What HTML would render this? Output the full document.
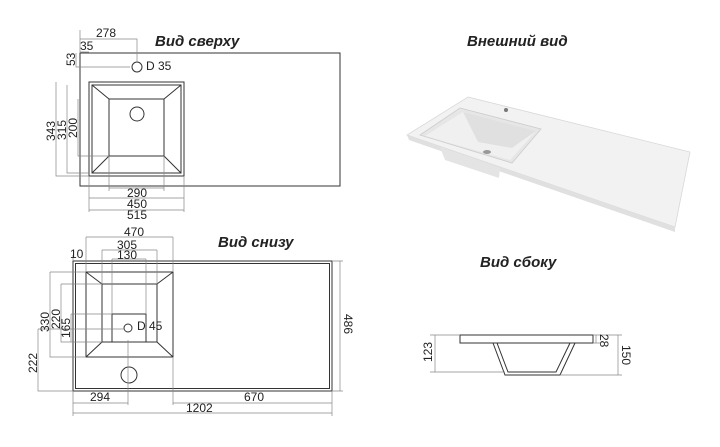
<!DOCTYPE html>
<html><head><meta charset="utf-8"><style>
body{margin:0;background:#fff}
svg{display:block}
text{font-family:"Liberation Sans",sans-serif;font-size:12px;fill:#222}
.t{font-size:15px;font-weight:bold;font-style:italic}
.d{stroke:#888;stroke-width:.7;fill:none}
.s{stroke:#333;stroke-width:1;fill:none}
</style></head><body>
<svg width="720" height="447" viewBox="0 0 720 447">
<!-- TOP VIEW -->
<text class="t" x="155" y="46">Вид сверху</text>
<rect class="s" x="80" y="53" width="260" height="133"/>
<rect class="s" x="89" y="82" width="95" height="94"/>
<rect class="s" x="92" y="85" width="89" height="88"/>
<rect class="s" x="109" y="99" width="55" height="57"/>
<path class="s" d="M92 85L109 99M181 85L164 99M92 173L109 156M181 173L164 156"/>
<circle class="s" cx="137" cy="114" r="7"/>
<circle class="s" cx="137" cy="67" r="5"/>
<text x="146" y="70">D 35</text>
<path class="d" d="M80 39H137V62M80 52H89M80 30V53M76 53V67H130M56 82V176H89M67 85V173H89M78 99V156H109M109 156V191M164 156V191M109 188H164M89 176V212M184 176V212M89 198H184M89 210H184"/>
<text x="96" y="37">278</text>
<text x="80" y="50">35</text>
<text transform="translate(75,66) rotate(-90)">53</text>
<text transform="translate(55,141) rotate(-90)">343</text>
<text transform="translate(66,140) rotate(-90)">315</text>
<text transform="translate(77,138) rotate(-90)">200</text>
<text x="127" y="197">290</text>
<text x="127" y="208">450</text>
<text x="127" y="219">515</text>

<!-- BOTTOM VIEW -->
<text class="t" x="218" y="247">Вид снизу</text>
<rect class="s" x="73" y="261" width="259" height="130"/>
<rect class="s" x="75.5" y="263.5" width="254" height="125"/>
<rect class="s" x="86" y="272" width="87" height="85"/>
<rect class="s" x="102" y="284" width="55" height="58"/>
<rect class="s" x="112" y="314" width="34" height="28"/>
<path class="s" d="M86 272L102 284M173 272L157 284M86 357L102 342M173 357L157 342"/>
<circle class="s" cx="128" cy="328" r="4"/>
<circle class="s" cx="129" cy="375" r="8"/>
<text x="137" y="330">D 45</text>
<path class="d" d="M86 237H173M86 237V272M173 237V272M102 250H157M102 250V284M157 250V284M112 259H146M112 259V314M146 259V314M73 255V261M50 272H86M50 272V357H86M61 284H102M61 284V342H102M71 314H112M71 314V342M38 329H125M38 329V391H73M332 261H343M332 391H343M340 261V391M73 391V416M332 391V416M128 340V405M173 357V405M73 403H128M173 403H332M73 413H332"/>
<text x="124" y="236">470</text>
<text x="117" y="249">305</text>
<text x="117" y="259">130</text>
<text x="70" y="258">10</text>
<text transform="translate(49,332) rotate(-90)">330</text>
<text transform="translate(60,329) rotate(-90)">220</text>
<text transform="translate(70,338) rotate(-90)">165</text>
<text transform="translate(37,373) rotate(-90)">222</text>
<text transform="translate(344,314) rotate(90)">486</text>
<text x="90" y="401">294</text>
<text x="244" y="401">670</text>
<text x="186" y="412">1202</text>

<!-- PHOTO -->
<text class="t" x="467" y="46">Внешний вид</text>
<polygon points="468,97 690,152 675,227 407,135" fill="#f2f2f2" stroke="#d8d8d8" stroke-width=".8"/>
<polygon points="407,135 675,227 675,232 409,140" fill="#e0e0e0"/>
<polygon points="460,108 541,129 512,163 420,135" fill="#e6e6e6" stroke="#cccccc" stroke-width=".8"/>
<polygon points="463,112 536,131 510,160 425,136" fill="#f0f0f0"/>
<polygon points="463,112 478,142 512,148 536,131" fill="#e0e0e0"/>
<polygon points="440,147 500,168 499,178 445,160" fill="#e4e4e4"/>
<ellipse cx="487" cy="152" rx="4" ry="2" fill="#999"/>
<circle cx="506" cy="110" r="2" fill="#777"/>

<!-- SIDE VIEW -->
<text class="t" x="480" y="267">Вид сбоку</text>
<rect class="s" x="460" y="335" width="133" height="8"/>
<path class="s" d="M493 343L505 375H560L575 343M497 343L508 372H556L570 343"/>
<path class="d" d="M430 335H460M430 372H505M435 335V372M593 335H600M593 343H600M596 335V343M593 335H622M560 375H622M618 335V375"/>
<text transform="translate(432,362) rotate(-90)">123</text>
<text transform="translate(600,334) rotate(90)">28</text>
<text transform="translate(622,345) rotate(90)">150</text>
</svg>
</body></html>
